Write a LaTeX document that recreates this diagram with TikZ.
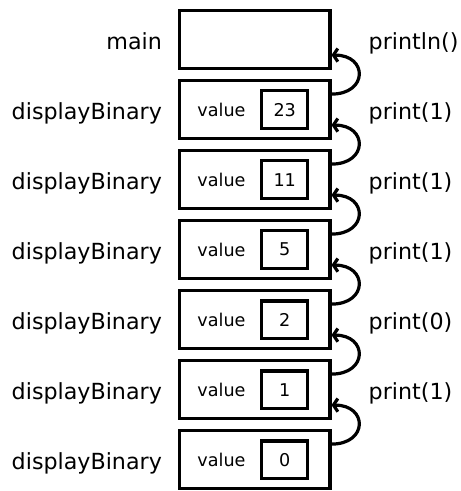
\documentclass[tikz,border=0pt]{standalone}
\usepackage{fontspec}
\setmainfont{DejaVu Sans}
\usetikzlibrary{positioning,arrows.meta}

\begin{document}
\begin{tikzpicture}[-{Straight Barb[length=2.2pt,width=6.6pt]},line width=1.6pt,auto,node distance=35pt,
            frame node/.style={rectangle,draw,minimum width=75.4pt,minimum height=28.9pt},
            value node/.style={rectangle,draw,minimum width=23pt,minimum height=18.7pt,
              inner sep=0pt,font=\fontsize{8.8}{10}\selectfont},
            value label/.style={inner sep=0pt,font=\fontsize{8.8}{10}\selectfont},
            call label/.style={inner sep=0pt,text height=7.6pt,text depth=0pt,yshift=-1pt,
              font=\fontsize{11.1}{13}\selectfont}]

        \useasboundingbox (-127.25pt,19.8pt) rectangle (102.75pt,-225.7pt);

        % Define frames
        \node[frame node] (f0) {};
        \node[frame node] (f1) [below of=f0] {};
        \node[frame node] (f2) [below of=f1] {};
        \node[frame node] (f3) [below of=f2] {};
        \node[frame node] (f4) [below of=f3] {};
        \node[frame node] (f5) [below of=f4] {};
        \node[frame node] (f6) [below of=f5] {};

        % Method names
        \node[call label] (m0) [left=7pt of f0] {main};
        \node[call label] (m1) [left=7pt of f1] {displayBinary};
        \node[call label] (m2) [left=7pt of f2] {displayBinary};
        \node[call label] (m3) [left=7pt of f3] {displayBinary};
        \node[call label] (m4) [left=7pt of f4] {displayBinary};
        \node[call label] (m5) [left=7pt of f5] {displayBinary};
        \node[call label] (m6) [left=7pt of f6] {displayBinary};

        % Parameter values
        \node[value node] (v1) at ([xshift=15.1pt]f1.center) {23};
        \node[value node] (v2) at ([xshift=15.1pt]f2.center) {11};
        \node[value node] (v3) at ([xshift=15.1pt]f3.center) {5};
        \node[value node] (v4) at ([xshift=15.1pt]f4.center) {2};
        \node[value node] (v5) at ([xshift=15.1pt]f5.center) {1};
        \node[value node] (v6) at ([xshift=15.1pt]f6.center) {0};
        \node[value label] (n1) [left=6.5pt of v1] {value};
        \node[value label] (n2) [left=6.5pt of v2] {value};
        \node[value label] (n3) [left=6.5pt of v3] {value};
        \node[value label] (n4) [left=6.5pt of v4] {value};
        \node[value label] (n5) [left=6.5pt of v5] {value};
        \node[value label] (n6) [left=6.5pt of v6] {value};

        % Output
        \node[call label] (p0) [right=17.8pt of f0] {println()};
        \node[call label] (p1) [right=17.8pt of f1] {print(1)};
        \node[call label] (p2) [right=17.8pt of f2] {print(1)};
        \node[call label] (p3) [right=17.8pt of f3] {print(1)};
        \node[call label] (p4) [right=17.8pt of f4] {print(0)};
        \node[call label] (p5) [right=17.8pt of f5] {print(1)};

        % Draw returns
        \path[every edge/.style={draw,out=0,in=0,looseness=2.4}]
            ([yshift=7.75pt]f1.east) edge ([yshift=-7.75pt]f0.east)
            ([yshift=7.75pt]f2.east) edge ([yshift=-7.75pt]f1.east)
            ([yshift=7.75pt]f3.east) edge ([yshift=-7.75pt]f2.east)
            ([yshift=7.75pt]f4.east) edge ([yshift=-7.75pt]f3.east)
            ([yshift=7.75pt]f5.east) edge ([yshift=-7.75pt]f4.east)
            ([yshift=7.75pt]f6.east) edge ([yshift=-7.75pt]f5.east);

        \end{tikzpicture}
\end{document}
